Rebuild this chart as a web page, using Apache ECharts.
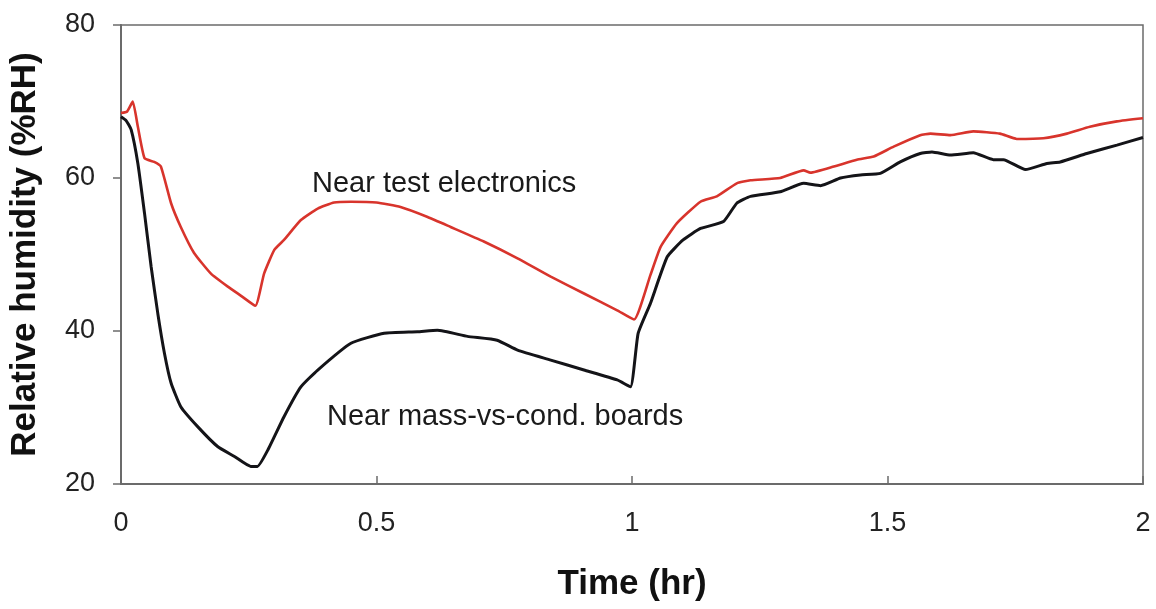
<!DOCTYPE html>
<html>
<head>
<meta charset="utf-8">
<script src="https://cdn.jsdelivr.net/npm/echarts@6/dist/echarts.min.js"></script>
<style>
  html, body { margin: 0; padding: 0; background: #fff; }
  #chart { width: 1156px; height: 609px; }
</style>
</head>
<body>
<div id="chart"></div>
<script>
// Near test electronics (red)
const timeElec = [0, 0.012, 0.023, 0.033, 0.046, 0.065, 0.078, 0.098, 0.117, 0.143, 0.176, 0.209, 0.235, 0.263,
  0.28, 0.30, 0.319, 0.352, 0.385, 0.417, 0.45, 0.50, 0.547, 0.60, 0.645, 0.71, 0.776, 0.841, 0.906, 0.971, 1.004,
  1.036, 1.056, 1.088, 1.134, 1.166, 1.205, 1.232, 1.29, 1.336, 1.349, 1.395, 1.44, 1.473, 1.512, 1.564, 1.584,
  1.623, 1.668, 1.72, 1.753, 1.805, 1.851, 1.896, 1.949, 2.0]
const rhElec = [68.5, 68.7, 70.0, 66.7, 62.6, 62.1, 61.5, 56.7, 53.6, 50.2, 47.5, 45.8, 44.6, 43.3,
  47.5, 50.6, 51.9, 54.5, 56.0, 56.8, 56.9, 56.8, 56.2, 54.9, 53.6, 51.7, 49.5, 47.1, 44.9, 42.7, 41.5,
  47.3, 51.0, 54.1, 56.9, 57.6, 59.3, 59.7, 60.0, 61.0, 60.7, 61.5, 62.4, 62.8, 64.1, 65.6, 65.8,
  65.6, 66.1, 65.8, 65.1, 65.2, 65.8, 66.7, 67.4, 67.8]

// Near mass-vs-cond. boards (black)
const timeBoards = [0, 0.01, 0.02, 0.033, 0.046, 0.059, 0.072, 0.085, 0.098, 0.117, 0.15, 0.189, 0.222, 0.254, 0.267,
  0.287, 0.319, 0.352, 0.385, 0.45, 0.515, 0.58, 0.619, 0.678, 0.736, 0.776, 0.841, 0.906, 0.971, 0.997,
  1.012, 1.036, 1.069, 1.10, 1.134, 1.179, 1.205, 1.232, 1.29, 1.336, 1.369, 1.408, 1.447, 1.486, 1.525, 1.564,
  1.587, 1.623, 1.668, 1.707, 1.727, 1.77, 1.812, 1.838, 1.89, 1.949, 2.0]
const rhBoards = [68.0, 67.5, 66.3, 61.9, 55.4, 48.4, 42.3, 37.1, 33.2, 30.1, 27.5, 24.9, 23.6, 22.3, 22.3,
  24.4, 28.8, 32.7, 34.9, 38.4, 39.7, 39.9, 40.1, 39.3, 38.8, 37.5, 36.2, 34.9, 33.6, 32.7,
  39.7, 43.6, 49.7, 51.9, 53.4, 54.3, 56.7, 57.6, 58.2, 59.3, 59.0, 60.0, 60.4, 60.6, 62.1, 63.2,
  63.4, 63.0, 63.3, 62.4, 62.4, 61.1, 61.9, 62.1, 63.2, 64.3, 65.3]

const xTicks = [0, 0.5, 1, 1.5, 2]
const yTicks = [20, 40, 60, 80]

const pairs = (xs, ys) => xs.map((x, i) => [x, ys[i]])

const chart = echarts.init(document.getElementById('chart'))
const font = 'Liberation Sans, Arial, sans-serif'

chart.setOption({
  backgroundColor: '#fff',
  animation: false,
  grid: { left: 120, right: 13, top: 25, bottom: 125, show: true, borderColor: '#6b6b6b', borderWidth: 1.5 },
  xAxis: {
    type: 'value',
    min: xTicks[0],
    max: xTicks[xTicks.length - 1],
    interval: 0.5,
    name: 'Time (hr)',
    nameLocation: 'middle',
    nameGap: 83,
    nameTextStyle: { fontFamily: font, fontSize: 35, fontWeight: 'bold', color: '#111' },
    axisLine: { lineStyle: { color: '#6b6b6b', width: 2 } },
    axisTick: { inside: true, length: 8, lineStyle: { color: '#6b6b6b', width: 1.5 } },
    axisLabel: { margin: 26, fontFamily: font, fontSize: 27, color: '#222',
      formatter: v => xTicks.includes(v) ? String(v) : '' },
    splitLine: { show: false }
  },
  yAxis: {
    type: 'value',
    min: yTicks[0],
    max: yTicks[yTicks.length - 1],
    interval: 20,
    name: 'Relative humidity (%RH)',
    nameLocation: 'middle',
    nameGap: 78,
    nameTextStyle: { fontFamily: font, fontSize: 35, fontWeight: 'bold', color: '#111' },
    axisLine: { lineStyle: { color: '#6b6b6b', width: 2 } },
    axisTick: { length: 8, lineStyle: { color: '#6b6b6b', width: 1.5 } },
    axisLabel: { margin: 26, fontFamily: font, fontSize: 27, color: '#222' },
    splitLine: { show: false }
  },
  graphic: [
    { type: 'text', left: 312, top: 169, style: { text: 'Near test electronics', font: '29px ' + font, fill: '#1a1a1a' } },
    { type: 'text', left: 327, top: 402, style: { text: 'Near mass-vs-cond. boards', font: '29px ' + font, fill: '#1a1a1a' } }
  ],
  series: [
    {
      name: 'Near test electronics',
      type: 'line',
      data: pairs(timeElec, rhElec),
      smooth: 0.15,
      showSymbol: false,
      lineStyle: { color: '#d8342c', width: 2.6 }
    },
    {
      name: 'Near mass-vs-cond. boards',
      type: 'line',
      data: pairs(timeBoards, rhBoards),
      smooth: 0.15,
      showSymbol: false,
      lineStyle: { color: '#141418', width: 3 }
    }
  ]
})
</script>
</body>
</html>
